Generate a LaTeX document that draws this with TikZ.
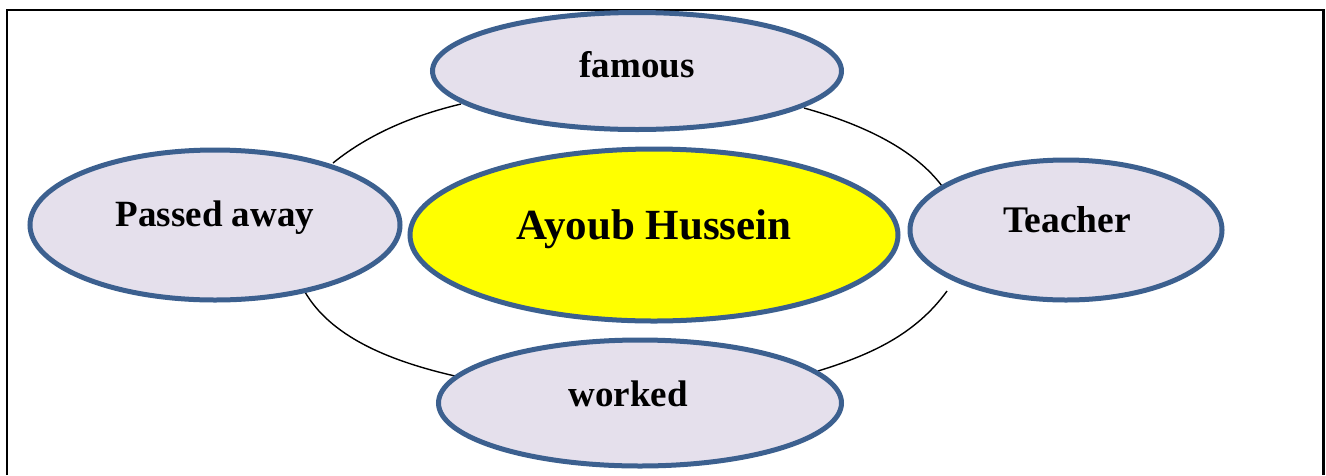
\documentclass[tikz,border=0pt]{standalone}
\usepackage{fontspec}
\setmainfont{Liberation Serif}
\usetikzlibrary{shapes.geometric}
\definecolor{edgeblue}{RGB}{60,96,143}
\definecolor{lilac}{RGB}{229,224,236}
\definecolor{yel}{RGB}{255,255,0}
\tikzset{x=1pt,y=-1pt,
 bub/.style={ellipse,draw=edgeblue,line width=5pt,fill=lilac,inner sep=0pt},
 lab/.style={font=\bfseries\fontsize{37}{42}\selectfont,inner sep=0pt},
 arcline/.style={black,line width=1.4pt}}
\begin{document}
\begin{tikzpicture}
\useasboundingbox (0,0) rectangle (1326,475);
\fill[white] (0,0) rectangle (1326,475);
\draw[black,line width=2.6pt] (7,475) -- (7,10) -- (1323.5,10) -- (1323.5,475);
\coordinate (a1) at (333,163);
\coordinate (a2) at (461,104);
\coordinate (b1) at (804,108);
\coordinate (b2) at (942,186);
\coordinate (c1) at (947,291);
\coordinate (c2) at (818,371);
\coordinate (d1) at (455,376);
\coordinate (d2) at (305,292);
\draw[arcline] (a1) .. controls (370,133) and (415,115) .. (a2);
\draw[arcline] (b1) .. controls (865,125) and (915,150) .. (b2);
\draw[arcline] (c1) .. controls (915,335) and (870,355) .. (c2);
\draw[arcline] (d1) .. controls (385,360) and (330,335) .. (d2);
\node[bub,minimum width=409pt,minimum height=117pt] (famous) at (637,71) {};
\node[lab] (famoust) at (637,65) {famous};
\node[bub,minimum width=370pt,minimum height=150pt] (passed) at (215,225) {};
\node[lab] (passedt) at (215,218) {Passed away};
\node[bub,fill=yel,minimum width=488pt,minimum height=172pt] (center) at (654,235) {};
\node[lab,font=\bfseries\fontsize{43}{48}\selectfont] (centert) at (654,229) {Ayoub Hussein};
\node[bub,minimum width=312pt,minimum height=140pt] (teacher) at (1066,230) {};
\node[lab,font=\bfseries\fontsize{37.5}{42}\selectfont] (teachert) at (1067,220) {Teacher};
\node[bub,minimum width=403pt,minimum height=126pt] (worked) at (640,403) {};
\node[lab] (workedt) at (628,394) {worked};
\end{tikzpicture}
\end{document}
